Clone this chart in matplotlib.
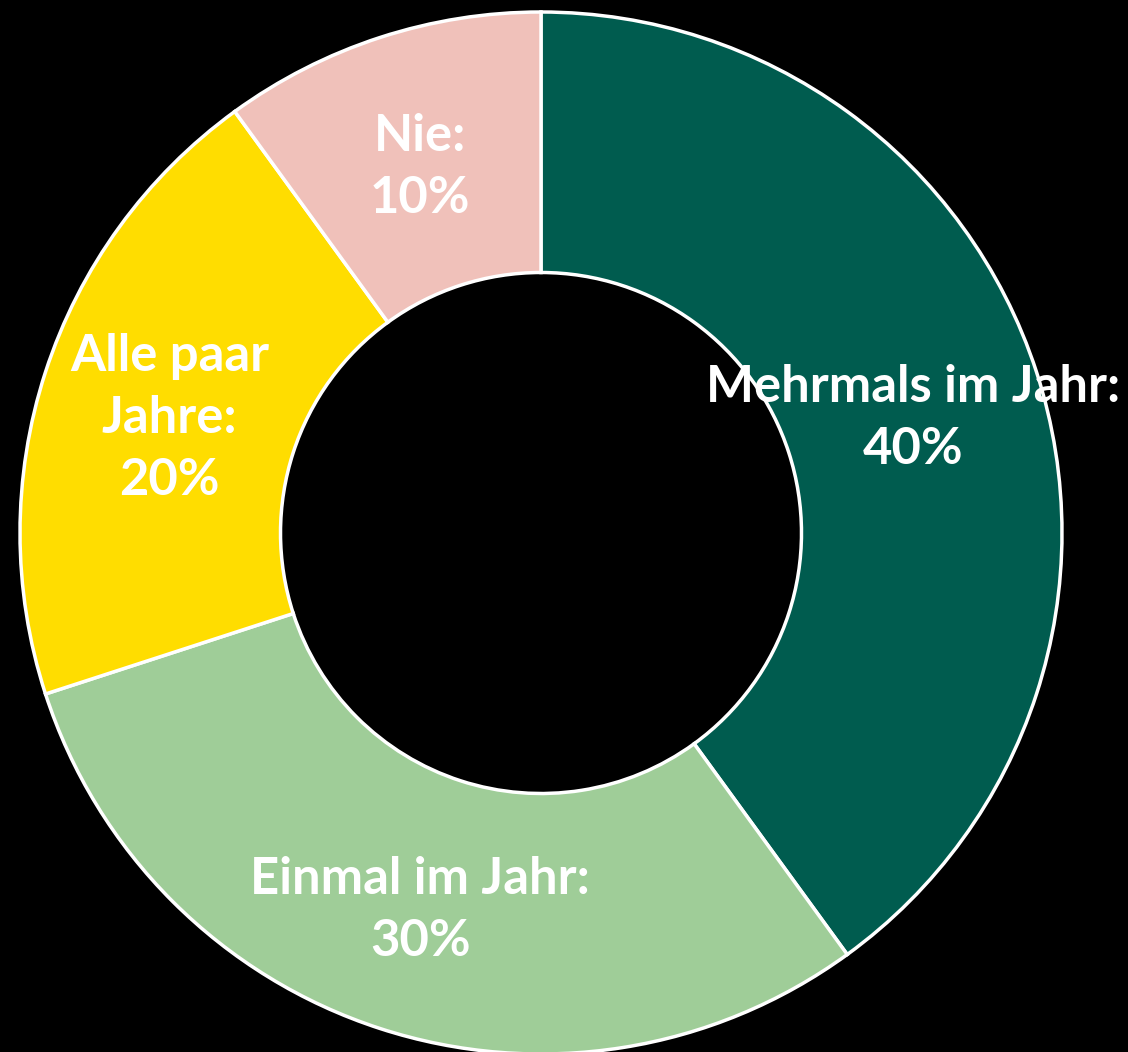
import matplotlib.pyplot as plt
import numpy as np

labels = ["Mehrmals im Jahr:", "Einmal im Jahr:", "Alle paar\nJahre:", "Nie:"]
values = [40, 30, 20, 10]
colors = ["#005C4F", "#9FCD98", "#FFDD00", "#F0C1BA"]

fig = plt.figure(figsize=(11.28, 10.52), dpi=100, facecolor="black")
# centre of the ring at (541, 533) px, outer radius 521 px
R = 521
ax = fig.add_axes([(541 - R) / 1128, (1052 - 533 - R) / 1052, 2 * R / 1128, 2 * R / 1052])
ax.set_facecolor("black")

wedges, _ = ax.pie(values, colors=colors, startangle=90, counterclock=False,
                   radius=1.0, wedgeprops=dict(width=0.5, edgecolor="white", linewidth=2.5))

# labels at the middle of the ring (nudged down a little)
theta = 90.0
for lab, v in zip(labels, values):
    span = v / sum(values) * 360
    mid = np.deg2rad(theta - span / 2)
    theta -= span
    r = 0.75
    ax.text(r * np.cos(mid), r * np.sin(mid) - 0.012, f"{lab}\n{v}%", ha="center", va="center",
            color="white", fontsize=36.5, fontweight="bold", family="Lato", linespacing=1.4)

ax.set_xlim(-1, 1)
ax.set_ylim(-1, 1)
ax.set_aspect("equal")
ax.axis("off")
fig.savefig("out.png", dpi=100, facecolor="black")
